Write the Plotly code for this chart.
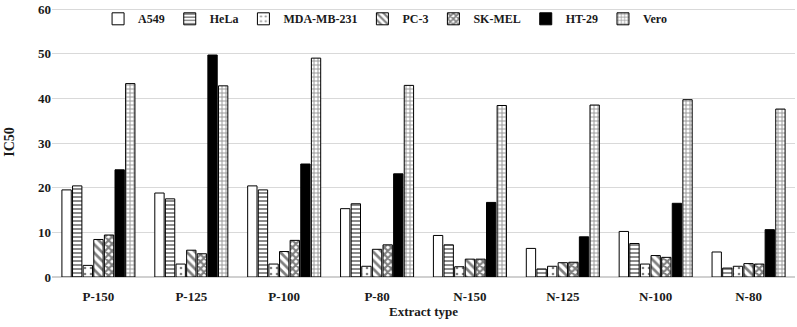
import plotly.graph_objects as go

categories = ["P-150", "P-125", "P-100", "P-80", "N-150", "N-125", "N-100", "N-80"]
series_names = ["A549", "HeLa", "MDA-MB-231", "PC-3", "SK-MEL", "HT-29", "Vero"]
a549 = [19.5, 18.8, 20.4, 15.3, 9.3, 6.4, 10.2, 5.6]
hela = [20.4, 17.5, 19.5, 16.4, 7.2, 1.8, 7.5, 2.0]
mda = [2.6, 2.9, 2.9, 2.4, 2.3, 2.4, 2.9, 2.4]
pc3 = [8.4, 6.0, 5.7, 6.2, 4.0, 3.2, 4.8, 3.0]
skmel = [9.4, 5.2, 8.2, 7.2, 4.0, 3.3, 4.4, 2.9]
ht29 = [24.0, 49.7, 25.3, 23.1, 16.7, 9.0, 16.5, 10.6]
vero = [43.3, 42.8, 49.0, 42.9, 38.4, 38.5, 39.7, 37.6]
y_ticks = [0, 10, 20, 30, 40, 50, 60]

values = [a549, hela, mda, pc3, skmel, ht29, vero]
styles = [
    dict(color="white", pattern=dict(shape="")),
    dict(color="white", pattern=dict(shape="-", fgcolor="black", size=4, solidity=0.45)),
    dict(color="white", pattern=dict(shape=".", fgcolor="black", size=6, solidity=0.15)),
    dict(color="white", pattern=dict(shape="\\", fgcolor="black", size=6, solidity=0.45)),
    dict(color="white", pattern=dict(shape="x", fgcolor="black", size=5, solidity=0.65)),
    dict(color="black", pattern=dict(shape="")),
    dict(color="white", pattern=dict(shape="+", fgcolor="#222222", size=4, solidity=0.4)),
]

font = "Liberation Serif"
fig = go.Figure()
for name, vals, st in zip(series_names, values, styles):
    fig.add_trace(go.Bar(
        x=categories, y=vals, name=name,
        marker=dict(color=st["color"], pattern=st["pattern"],
                    line=dict(color="black", width=1)),
    ))

fig.update_layout(
    width=797, height=327,
    margin=dict(l=52, r=2, t=3, b=50),
    paper_bgcolor="white", plot_bgcolor="white",
    barmode="group", bargap=0.2, bargroupgap=0.12,
    font=dict(family=font, size=13, color="#1a1a1a"),
    showlegend=True,
    legend=dict(orientation="h", x=0.062, y=1.01, xanchor="left", yanchor="top",
                bgcolor="rgba(255,255,255,0)",
                font=dict(family=font, size=12, color="#1a1a1a", weight="bold"),
                itemwidth=30, tracegroupgap=0),
    xaxis=dict(title=dict(text="<b>Extract type</b>", font=dict(family=font, size=13), standoff=1),
               tickfont=dict(family=font, size=13, weight="bold"),
               ticklabelstandoff=7,
               showline=True, linecolor="#d0d0d0", linewidth=1, ticks=""),
    yaxis=dict(title=dict(text="<b>IC50</b>", font=dict(family=font, size=14), standoff=20),
               range=[0, 60.45], tickvals=y_ticks, ticklabeloverflow="allow",
               tickfont=dict(family=font, size=13, weight="bold"),
               showgrid=True, gridcolor="#d9d9d9", gridwidth=1,
               zeroline=True, zerolinecolor="#d0d0d0", ticks=""),
)

fig.write_html("out.html", config={"displayModeBar": False},
               post_script="document.body.style.margin='0';")
